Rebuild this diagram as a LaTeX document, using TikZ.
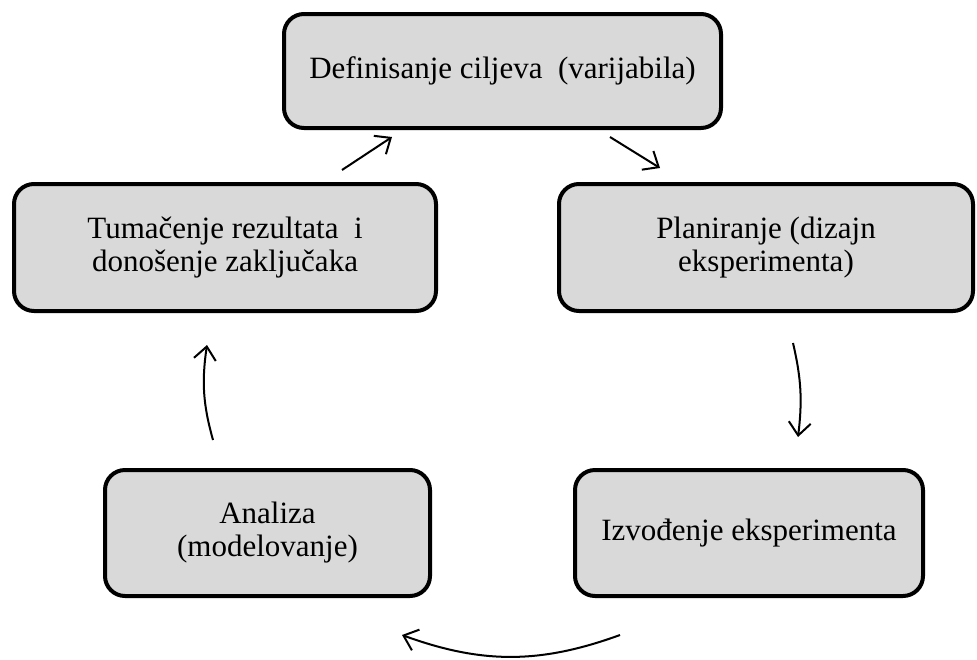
\documentclass[tikz,border=0pt]{standalone}
\usepackage{fontspec}
\setmainfont{Liberation Serif}
\usetikzlibrary{arrows.meta}
\definecolor{boxgray}{HTML}{D9D9D9}
\begin{document}
\begin{tikzpicture}[x=1pt,y=-1pt,
  stage/.style={draw=black, line width=4pt, fill=boxgray, rounded corners=20pt,
    align=center, font=\fontsize{31}{33}\selectfont, inner sep=0pt},
  flow/.style={line width=2pt, -{Straight Barb[length=13pt,width=22pt]}}]
\useasboundingbox (0,0) rectangle (977,659);
\node[stage, minimum width=437pt, minimum height=114pt] (def) at (502.5,71) {Definisanje ciljeva~ (varijabila)};
\node[stage, minimum width=422pt, minimum height=127pt] (tum) at (225,247.5) {Tumačenje rezultata~ i\\donošenje zaključaka};
\node[stage, minimum width=414pt, minimum height=127pt] (plan) at (766,247.5) {Planiranje (dizajn\\eksperimenta)};
\node[stage, minimum width=325pt, minimum height=126pt] (ana) at (267.5,533) {Analiza\\(modelovanje)};
\node[stage, minimum width=348pt, minimum height=126pt] (izv) at (749,533) {Izvođenje eksperimenta};
\coordinate (a1s) at (342,170); \coordinate (a1e) at (392,137);
\coordinate (a2s) at (610,137); \coordinate (a2e) at (660,168);
\coordinate (a3s) at (793,343); \coordinate (a3e) at (798,437);
\coordinate (a4s) at (620,635); \coordinate (a4e) at (402,635);
\coordinate (a5s) at (213,440); \coordinate (a5e) at (207,345);
\draw[flow] (a1s) -- (a1e);
\draw[flow] (a2s) -- (a2e);
\draw[flow] (a3s) to[bend left=10] (a3e);
\draw[flow] (a4s) to[bend left=20] (a4e);
\draw[flow] (a5s) to[bend left=12] (a5e);
\end{tikzpicture}
\end{document}
